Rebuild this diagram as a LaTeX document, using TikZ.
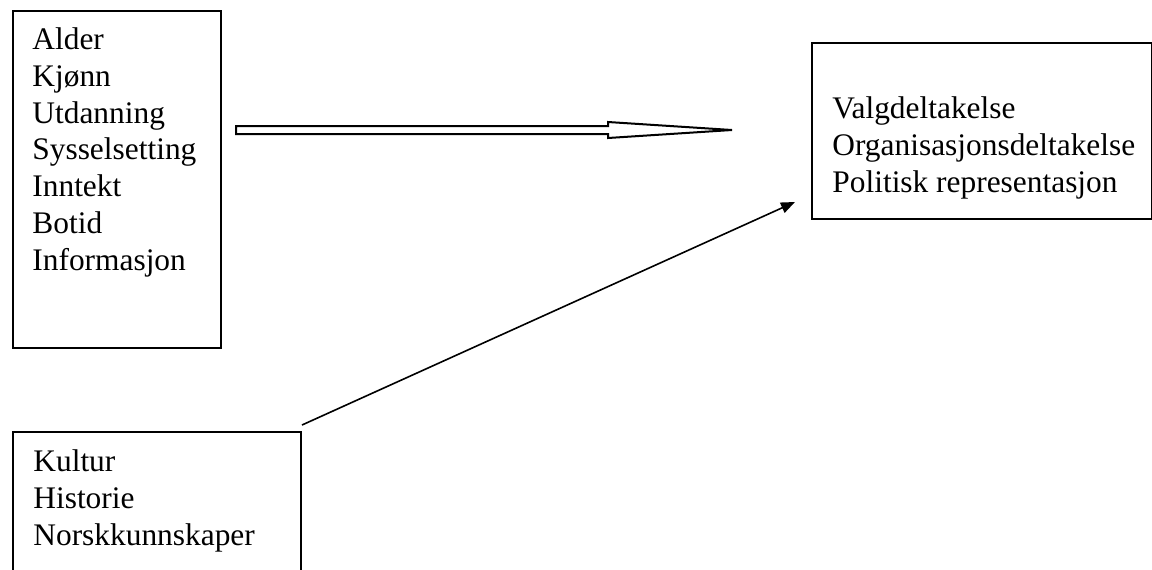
\documentclass[tikz,border=0pt]{standalone}
\usepackage{fontspec}
\setmainfont{Liberation Serif}
\usetikzlibrary{arrows.meta}
\tikzset{
  box/.style={draw,line width=1pt,rectangle,inner sep=0pt,anchor=north west},
  words/.style={align=left,inner sep=0pt,anchor=base west,
    font=\fontsize{15.7pt}{18.35pt}\selectfont}
}
\begin{document}
\begin{tikzpicture}[x=0.5pt,y=-0.5pt]
\useasboundingbox (0,0) rectangle (1152,569);
% boxes
\node[box,minimum width=104pt,minimum height=168.5pt] (bakgrunn) at (12,10) {};
\node[box,minimum width=170pt,minimum height=88pt] (deltakelse) at (811,42) {};
\node[box,minimum width=144pt,minimum height=90pt] (kultur) at (12,431) {};
% texts (base = last line)
\node[words] (bakgrunntxt) at (32,270) {Alder\\Kjønn\\Utdanning\\Sysselsetting\\Inntekt\\Botid\\Informasjon};
\node[words] (deltakelsetxt) at (832,192) {Valgdeltakelse\\Organisasjonsdeltakelse\\Politisk representasjon};
\node[words] (kulturtxt) at (33,545) {Kultur\\Historie\\Norskkunnskaper};
% block arrow
\coordinate (pilstart) at (236,130);
\coordinate (piltupp) at (732,130);
\draw[line width=1pt,line join=miter] ([yshift=2pt]pilstart) -- ++(372,0) -- ++(0,-4)
  -- (piltupp) -- ++(-124,8) -- ++(0,-4) -- ++(-372,0) -- cycle;
% diagonal arrow
\coordinate (spiss) at (795,202);
\draw[line width=0.8pt,-{Triangle[length=7pt,width=5.5pt]}] ([yshift=3pt]kultur.north east) -- (spiss);
\end{tikzpicture}
\end{document}
